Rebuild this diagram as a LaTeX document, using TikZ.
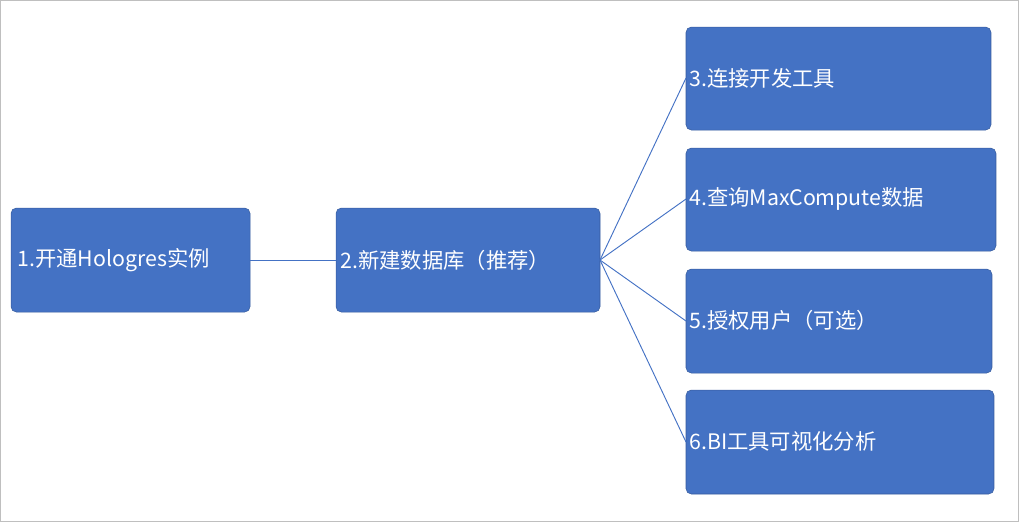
\documentclass[tikz,border=0pt]{standalone}
\usepackage{fontspec}
\setmainfont{Noto Sans CJK SC}
\definecolor{boxblue}{HTML}{4472C4}
\definecolor{frame}{HTML}{BFBFBF}
\begin{document}
\begin{tikzpicture}[x=0.75pt,y=-0.75pt,
  bx/.style={fill=boxblue,draw=boxblue!80!black,line width=0.4pt,rounded corners=4pt},
  lbl/.style={text=white,anchor=west,font=\fontsize{16}{19}\selectfont,inner sep=0pt},
  link/.style={draw=boxblue,line width=0.7pt}]
\draw[frame,line width=0.8pt] (0.5,0.5) rectangle (1018.5,521.5);
\useasboundingbox (0,0) rectangle (1019,522);
\path[bx] (11,208) rectangle (250,312);
\path[bx] (336,208) rectangle (600,312);
\path[bx] (686,27) rectangle (991,130);
\path[bx] (686,148) rectangle (996,251);
\path[bx] (686,269) rectangle (992,373);
\path[bx] (686,390) rectangle (994,494);
\node[lbl] (t1) at (17,260) {1.开通Hologres实例};
\node[lbl] (t2) at (340,260) {2.新建数据库（推荐）};
\node[lbl] (t3) at (689,78) {3.连接开发工具};
\node[lbl] (t4) at (689,199) {4.查询MaxCompute数据};
\node[lbl] (t5) at (689,320) {5.授权用户（可选）};
\node[lbl] (t6) at (689,441) {6.BI工具可视化分析};
\coordinate (a1) at (250,260);
\coordinate (a2) at (336,260);
\coordinate (b2) at (600,260);
\coordinate (c3) at (686,78);
\coordinate (c4) at (686,199);
\coordinate (c5) at (686,321);
\coordinate (c6) at (686,442);
\draw[link] (a1) -- (a2);
\foreach \c in {c3,c4,c5,c6} \draw[link] (b2) -- (\c);
\end{tikzpicture}
\end{document}
